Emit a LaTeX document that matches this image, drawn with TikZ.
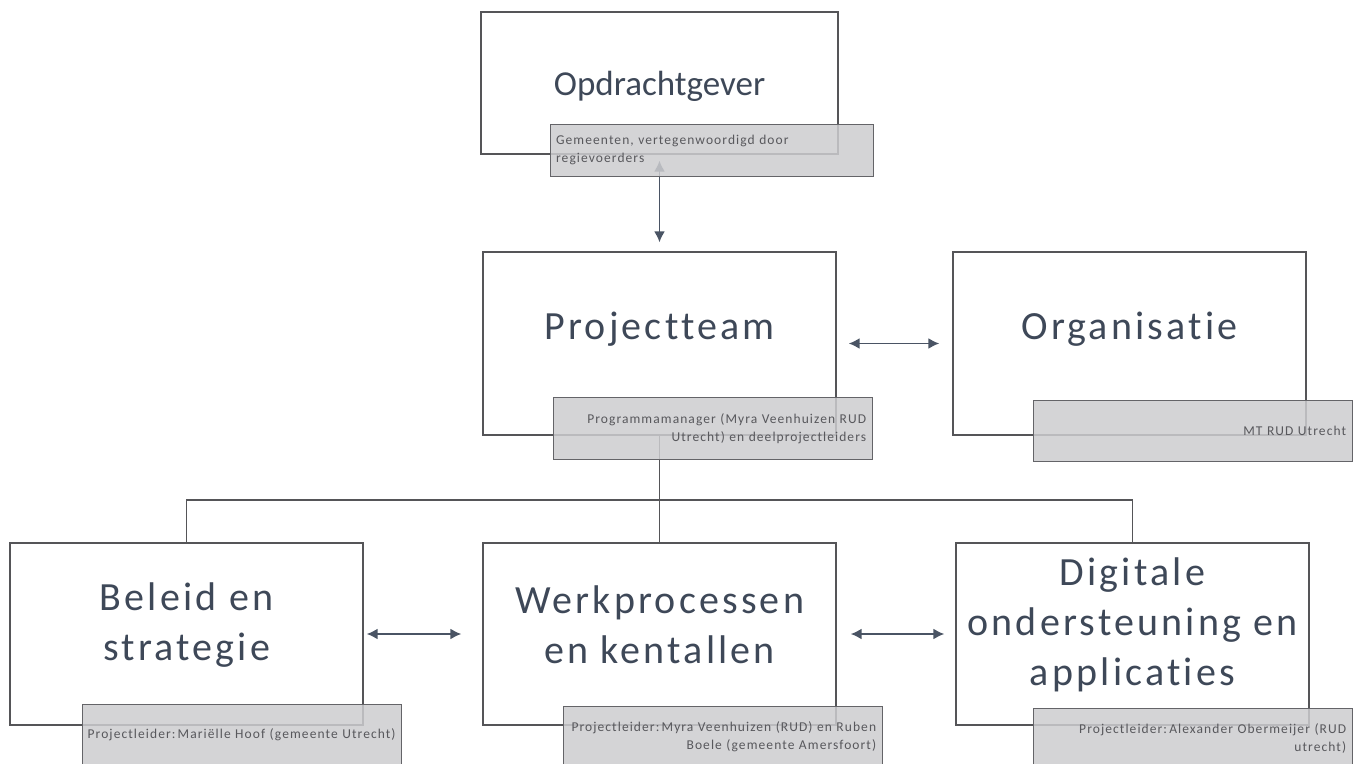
\documentclass[tikz,border=0pt]{standalone}
\usepackage{fontspec}
\setmainfont[Ligatures=NoCommon]{Carlito}
\newfontfamily\spacedfont[LetterSpace=8, Ligatures=NoCommon]{Carlito}
\usetikzlibrary{arrows.meta}
\definecolor{boxline}{RGB}{85,85,88}
\definecolor{titleblue}{RGB}{62,72,88}
\definecolor{arrowblue}{RGB}{74,84,100}
\definecolor{rolefill}{RGB}{204,204,207}
\definecolor{roleline}{RGB}{100,100,104}
\definecolor{roletext}{RGB}{88,88,92}
\tikzstyle{unit} = [rectangle, draw=boxline, line width=1.4pt, minimum width=353pt, minimum height=183pt, inner sep=0pt]
\tikzstyle{unittitle} = [text=titleblue, align=center, inner sep=0pt, font=\spacedfont\fontsize{40}{50}\selectfont]
\tikzstyle{role} = [rectangle, anchor=north east, draw=roleline, line width=1.2pt, fill=rolefill, fill opacity=0.85, text opacity=1, text=roletext, minimum height=61pt, text width=307pt, inner xsep=6pt, font=\spacedfont\fontsize{13.5}{18}\selectfont]
\tikzstyle{arrow} = [line width=1.7pt, draw=arrowblue, >={Latex[length=11pt,width=11pt]}, <->]
\tikzstyle{tree} = [line width=1.4pt, draw=boxline]

\begin{document}
\begin{tikzpicture}[x=1pt, y=-1pt]
\useasboundingbox (0,0) rectangle (1357,763);

% hoofdblokken
\node (proj) [unit] at (659.5,343.5) {};
\node (opdracht) [unit, minimum width=357pt, minimum height=142pt, above of=proj, node distance=260.5pt] {};
\node (org) [unit, right of=proj, node distance=470pt] {};
\node (werk) [unit, minimum height=182pt, below of=proj, node distance=290.5pt] {};
\node (beleid) [unit, minimum height=182pt, left of=werk, node distance=473pt] {};
\node (digi) [unit, minimum height=182pt, right of=werk, node distance=473pt] {};

\node (opdrachttext) [unittitle, font=\fontsize{35}{42}\selectfont, below of=opdracht, node distance=3.5pt]
	{Opdrachtgever};
\node (projtext) [unittitle, above of=proj, node distance=14pt]
	{Projectteam};
\node (orgtext) [unittitle, above of=org, node distance=14pt]
	{Organisatie};
\node (beleidtext) [unittitle, above of=beleid, node distance=9pt]
	{Beleid en\\strategie};
\node (werktext) [unittitle, above of=werk, node distance=9pt]
	{Werkprocessen\\en kentallen};
\node (digitext) [unittitle, above of=digi, node distance=9pt]
	{Digitale\\ondersteuning en\\applicaties};

\coordinate (bus) at (659.5,500);

\draw [arrow, shorten <=6pt, shorten >=9pt] (opdracht) -- (proj);
\draw [arrow, shorten <=12pt, shorten >=13pt] (proj) -- (org);
\draw [arrow, shorten <=3pt, shorten >=21pt] (beleid) -- (werk);
\draw [arrow, shorten <=14pt, shorten >=11pt] (werk) -- (digi);

\draw [tree] (proj.south) -- (bus) -| (beleid.north);
\draw [tree] (bus) -| (digi.north);
\draw [tree] (bus) -- (werk.north);

% rollen
\node (opdrachtrol) [role, align=left, text width=311pt, minimum height=52pt, xshift=35pt, yshift=31pt] at (opdracht.south east)
	{Gemeenten, vertegenwoordigd door\\regievoerders};
\node (projrol) [role, align=right, minimum height=62pt, xshift=36pt, yshift=39pt] at (proj.south east)
	{Programmamanager (Myra Veenhuizen RUD\\Utrecht) en deelprojectleiders};
\node (orgrol) [role, align=right, xshift=46pt, yshift=36pt] at (org.south east)
	{MT RUD Utrecht};
\node (beleidrol) [role, align=center, text width=317pt, inner xsep=1pt, xshift=38pt, yshift=22pt] at (beleid.south east)
	{Projectleider:\,Mariëlle Hoof (gemeente Utrecht)};
\node (werkrol) [role, align=right, xshift=46pt, yshift=20pt] at (werk.south east)
	{Projectleider:\,Myra Veenhuizen (RUD) en Ruben\\Boele (gemeente Amersfoort)};
\node (digirol) [role, align=right, xshift=43pt, yshift=18pt] at (digi.south east)
	{Projectleider:\,Alexander Obermeijer (RUD\\utrecht)};

\end{tikzpicture}
\end{document}
